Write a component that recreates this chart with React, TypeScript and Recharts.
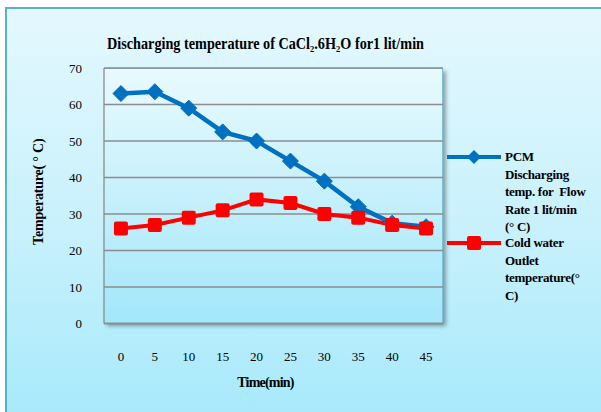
import React from "react";
import { LineChart, Line, XAxis, YAxis, CartesianGrid } from "recharts";

// Time in minutes
const times = [0, 5, 10, 15, 20, 25, 30, 35, 40, 45];
// PCM discharging temperature, flow rate 1 lit/min (°C)
const pcmTemp = [63, 63.5, 59, 52.5, 50, 44.5, 39, 32, 27.5, 26.5];
// Cold water outlet temperature (°C)
const coldWaterTemp = [26, 27, 29, 31, 34, 33, 30, 29, 27, 26];
const yTicks = [0, 10, 20, 30, 40, 50, 60, 70];

const titleText = "Discharging temperature of CaCl₂.6H₂O for1 lit/min";
const pcmName = "PCM Discharging temp. for Flow Rate 1 lit/min (° C)";
const coldName = "Cold water Outlet temperature(° C)";
const pcmLegendLines = ["PCM", "Discharging", "temp. for  Flow", "Rate 1 lit/min", "(° C)"];
const coldLegendLines = ["Cold water", "Outlet", "temperature(°", "C)"];

const BLUE = "#0070c0";
const RED = "#ff0000";
const FONT = "'Liberation Serif', 'Times New Roman', serif";

const data = times.map((t, i) => ({ t, pcm: pcmTemp[i], cold: coldWaterTemp[i] }));

const Diamond = (props: any) => {
  const { cx, cy } = props;
  if (cx == null || cy == null) return null;
  const r = 8;
  return (
    <path
      d={`M${cx},${cy - r} L${cx + r},${cy} L${cx},${cy + r} L${cx - r},${cy} Z`}
      fill={BLUE}
      stroke={BLUE}
      strokeWidth={1}
      strokeLinejoin="round"
    />
  );
};

const Square = (props: any) => {
  const { cx, cy } = props;
  if (cx == null || cy == null) return null;
  const s = 14;
  return <rect x={cx - s / 2} y={cy - s / 2} width={s} height={s} rx={2} fill={RED} />;
};

const LegendRow = ({ color, marker, lines, top }: any) => (
  <div style={{ position: "absolute", left: 447, top, display: "flex" }}>
    <svg width={56} height={18} style={{ display: "block" }}>
      <line x1={0} y1={9} x2={54} y2={9} stroke={color} strokeWidth={4} />
      {marker === "diamond" ? (
        <path d="M27,2 L34,9 L27,16 L20,9 Z" fill={color} />
      ) : (
        <rect x={20} y={2} width={14} height={14} rx={2} fill={color} />
      )}
    </svg>
    <div
      style={{
        marginLeft: 2,
        fontFamily: FONT,
        fontWeight: "bold",
        fontSize: 13,
        lineHeight: "17.6px",
        color: "#000",
        whiteSpace: "pre",
        letterSpacing: "-0.3px",
      }}
    >
      {lines.join("\n")}
    </div>
  </div>
);

export default function App() {
  return (
    <div
      style={{
        position: "absolute",
        left: 0,
        top: 0,
        width: 601,
        height: 412,
        overflow: "hidden",
        background: "#ffffff",
      }}
    >
      {/* chart frame */}
      <div
        style={{
          position: "absolute",
          left: 5,
          top: 7,
          width: 640,
          height: 440,
          border: "2px solid #55b3c9",
          background: "linear-gradient(to bottom, #e4f8fe 0%, #c8f1fc 50%, #a2e8fb 100%)",
        }}
      />
      {/* plot area panel */}
      <div
        style={{
          position: "absolute",
          left: 104,
          top: 68,
          width: 339,
          height: 255,
          boxSizing: "border-box",
          borderTop: "1px solid #79c2d6",
          borderRight: "1px solid #79c2d6",
          boxShadow: "3px 3px 4px rgba(0,0,0,0.35)",
          background: "linear-gradient(to bottom, #e8fafe 0%, #c6f0fc 50%, #a2e7fa 100%)",
        }}
      />
      {/* title */}
      <svg width={601} height={60} style={{ position: "absolute", left: 0, top: 0 }}>
        <text
          x={107}
          y={49}
          fontFamily={FONT}
          fontWeight="bold"
          fontSize={17}
          fill="#000"
          textLength={317}
          lengthAdjust="spacingAndGlyphs"
        >
          {titleText}
        </text>
      </svg>
      <div style={{ position: "absolute", left: 0, top: 0 }}>
        <LineChart
          width={601}
          height={412}
          data={data}
          margin={{ top: 68, right: 158, bottom: 28.5, left: 0 }}
        >
          <CartesianGrid vertical={false} stroke="#8c8c8c" strokeWidth={1.3} />
          <XAxis
            dataKey="t"
            type="number"
            domain={[-2.5, 47.5]}
            ticks={times}
            height={60}
            tickSize={0}
            tickMargin={28}
            axisLine={{ stroke: "#8c8c8c", strokeWidth: 1.3 }}
            tick={{ fill: "#000", fontFamily: FONT, fontSize: 13 }}
            label={{
              value: "Time(min)",
              position: "insideBottom",
              offset: -3,
              dx: -8,
              fill: "#000",
              fontFamily: FONT,
              fontWeight: "bold",
              fontSize: 14,
              letterSpacing: "-0.8px",
            }}
          />
          <YAxis
            type="number"
            domain={[0, 70]}
            ticks={yTicks}
            width={104}
            tickSize={0}
            tickMargin={22}
            axisLine={{ stroke: "#8c8c8c", strokeWidth: 1.3 }}
            tick={{ fill: "#000", fontFamily: FONT, fontSize: 13 }}
            label={{
              value: "Temperature( ° C)",
              angle: -90,
              position: "center",
              dx: -14,
              dy: -4,
              fill: "#000",
              fontFamily: FONT,
              fontWeight: "bold",
              fontSize: 14,
              letterSpacing: "-0.2px",
            }}
          />
          <Line
            name={pcmName}
            dataKey="pcm"
            stroke={BLUE}
            strokeWidth={4.5}
            dot={<Diamond />}
            activeDot={false}
            isAnimationActive={false}
          />
          <Line
            name={coldName}
            dataKey="cold"
            stroke={RED}
            strokeWidth={4}
            dot={<Square />}
            activeDot={false}
            isAnimationActive={false}
          />
        </LineChart>
      </div>
      <LegendRow color={BLUE} marker="diamond" lines={pcmLegendLines} top={148} />
      <LegendRow color={RED} marker="square" lines={coldLegendLines} top={234} />
    </div>
  );
}
